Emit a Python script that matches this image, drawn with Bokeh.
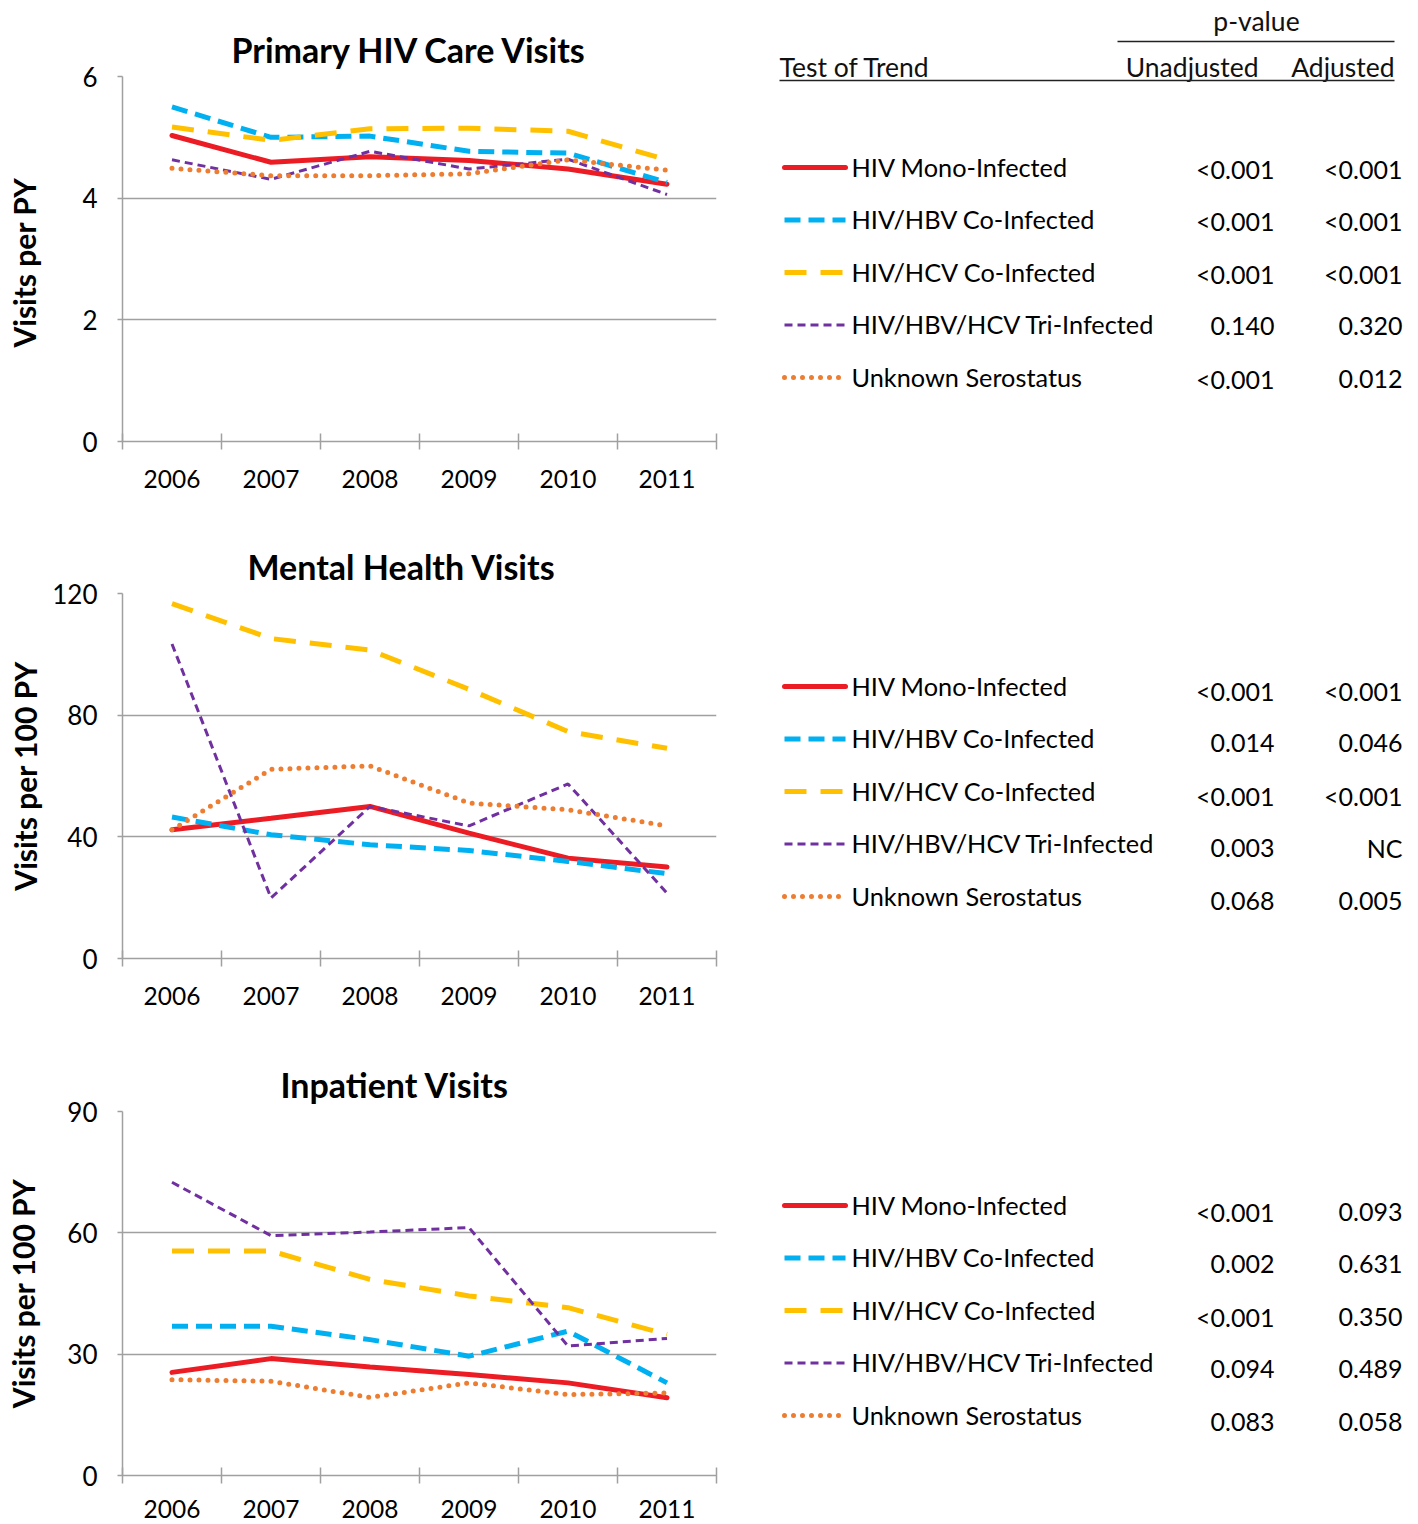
from bokeh.plotting import figure
from bokeh.layouts import row, column
from bokeh.models import Range1d, FixedTicker
from bokeh.core.properties import value
from bokeh.embed import file_html
from bokeh.resources import INLINE

FONT = "Lato"

# ---------------- data ----------------
years = [2006, 2007, 2008, 2009, 2010, 2011]
series_names = ["HIV Mono-Infected", "HIV/HBV Co-Infected", "HIV/HCV Co-Infected",
                "HIV/HBV/HCV Tri-Infected", "Unknown Serostatus"]

primary_mono = [5.03, 4.59, 4.68, 4.62, 4.48, 4.23]
primary_hbv = [5.50, 5.00, 5.02, 4.77, 4.74, 4.26]
primary_hcv = [5.17, 4.95, 5.14, 5.15, 5.10, 4.63]
primary_tri = [4.63, 4.31, 4.77, 4.48, 4.64, 4.06]
primary_unk = [4.49, 4.37, 4.37, 4.40, 4.63, 4.46]

mental_mono = [42.3, 46.1, 50.0, 41.2, 33.0, 30.1]
mental_hbv = [46.5, 40.7, 37.4, 35.5, 31.9, 27.9]
mental_hcv = [116.7, 105.2, 101.4, 88.5, 74.6, 69.1]
mental_tri = [103.4, 19.9, 50.0, 43.6, 57.4, 21.5]
mental_unk = [42.3, 62.2, 63.3, 51.1, 48.9, 43.6]

inpatient_mono = [25.5, 28.9, 26.8, 25.0, 22.9, 19.2]
inpatient_hbv = [36.9, 36.9, 33.6, 29.5, 35.7, 22.9]
inpatient_hcv = [55.5, 55.5, 48.5, 44.4, 41.5, 34.9]
inpatient_tri = [72.5, 59.3, 60.2, 61.3, 32.0, 33.9]
inpatient_unk = [23.7, 23.3, 19.3, 22.9, 20.0, 20.4]

panel_titles = ["Primary HIV Care Visits", "Mental Health  Visits", "Inpatient Visits"]
panel_ylabels = ["Visits per  PY", "Visits per 100 PY", "Visits per 100 PY"]
panel_yticks = [[0, 2, 4, 6], [0, 40, 80, 120], [0, 30, 60, 90]]

t1_unadj = ["<0.001", "<0.001", "<0.001", "0.140", "<0.001"]
t1_adj = ["<0.001", "<0.001", "<0.001", "0.320", "0.012"]
t2_unadj = ["<0.001", "0.014", "<0.001", "0.003", "0.068"]
t2_adj = ["<0.001", "0.046", "<0.001", "NC", "0.005"]
t3_unadj = ["<0.001", "0.002", "<0.001", "0.094", "0.083"]
t3_adj = ["0.093", "0.631", "0.350", "0.489", "0.058"]

# ---------------- styles ----------------
styles = [
    dict(line_color="#ec1c24", line_width=5, line_dash="solid", line_cap="round"),
    dict(line_color="#00b0f0", line_width=5, line_dash="16 8", line_cap="butt"),
    dict(line_color="#ffc000", line_width=5, line_dash="22 14", line_cap="butt"),
    dict(line_color="#7030a0", line_width=3, line_dash="8 5", line_cap="butt"),
    dict(line_color="#ed7d31", line_width=5, line_dash="0 9", line_cap="round"),
]
GRID = "#a0a0a0"


def make_panel(idx, series, height, top, bottom, xstand, ylab_stand, title_off):
    ticks = panel_yticks[idx]
    p = figure(width=738, height=height,
               x_range=Range1d(2005.5, 2011.5), y_range=Range1d(0, ticks[-1]),
               output_backend="svg", toolbar_location=None,
               min_border_left=122, min_border_right=22,
               min_border_top=top, min_border_bottom=bottom,
               title=panel_titles[idx])
    p.outline_line_color = None
    p.background_fill_color = "white"
    p.border_fill_color = "white"
    p.title.align = "left"
    p.title.offset = title_off
    p.title.text_font = FONT
    p.title.text_font_size = "34px"
    p.title.text_font_style = "bold"
    p.title.text_color = "#000000"
    p.title.standoff = 14

    xa = p.xaxis[0]
    xa.ticker = FixedTicker(ticks=years, minor_ticks=[y - 0.5 for y in years] + [years[-1] + 0.5])
    xa.major_tick_line_color = None
    xa.major_tick_in = 0
    xa.major_tick_out = 0
    xa.minor_tick_line_color = GRID
    xa.minor_tick_line_width = 1.5
    xa.minor_tick_in = 8
    xa.minor_tick_out = 8
    xa.axis_line_color = GRID
    xa.axis_line_width = 1.5
    xa.major_label_text_font = FONT
    xa.major_label_text_font_size = "24.5px"
    xa.major_label_text_color = "#000000"
    xa.major_label_standoff = xstand

    ya = p.yaxis[0]
    ya.ticker = FixedTicker(ticks=ticks, minor_ticks=[])
    ya.major_tick_line_color = GRID
    ya.major_tick_in = 0
    ya.major_tick_out = 5
    ya.major_tick_line_width = 1.5
    ya.axis_line_color = GRID
    ya.axis_line_width = 1.5
    ya.major_label_text_font = FONT
    ya.major_label_text_font_size = "26px"
    ya.major_label_text_color = "#000000"
    ya.major_label_standoff = 20
    ya.axis_label = panel_ylabels[idx]
    ya.axis_label_text_font = FONT
    ya.axis_label_text_font_size = "30px"
    ya.axis_label_text_font_style = "bold"
    ya.axis_label_text_color = "#000000"
    ya.axis_label_standoff = ylab_stand

    p.xgrid.visible = False
    p.ygrid.ticker = FixedTicker(ticks=ticks)
    p.ygrid.grid_line_color = GRID
    p.ygrid.grid_line_width = 1.5

    for vals, st in zip(series, styles):
        p.line(years, vals, **st)
    return p


p1 = make_panel(0, [primary_mono, primary_hbv, primary_hcv, primary_tri, primary_unk],
                525, 76, 84, 20, 37, 109)
p2 = make_panel(1, [mental_mono, mental_hbv, mental_hcv, mental_tri, mental_unk],
                517, 68, 84, 20, 6, 125)
p3 = make_panel(2, [inpatient_mono, inpatient_hbv, inpatient_hcv, inpatient_tri, inpatient_unk],
                480, 69, 47, 16, 23, 158)

# ---------------- table / legend panel ----------------
TW, TH = 678, 1522
t = figure(width=TW, height=TH, x_range=Range1d(738, 738 + TW), y_range=Range1d(TH, 0),
           output_backend="svg", toolbar_location=None, min_border=0,
           x_axis_location=None, y_axis_location=None)
t.grid.visible = False
t.outline_line_color = None
t.background_fill_color = "white"
t.border_fill_color = "white"

hdr = dict(text_font=value(FONT), text_font_size="26.5px", text_color="#111111",
           text_baseline="middle")
txt = dict(text_font=value(FONT), text_font_size="25.3px", text_color="#000000",
           text_baseline="middle")
val = dict(text_font=value(FONT), text_font_size="25px", text_color="#000000",
           text_baseline="middle")
t.text(x=[1256], y=[20], text=["p-value"], text_align="center", **hdr)
t.line([1117, 1394], [41, 41], line_color="#222222", line_width=1.5)
t.text(x=[779], y=[66], text=["Test of Trend"], text_align="left", **hdr)
t.text(x=[1258, 1394], y=[66, 66], text=["Unadjusted", "Adjusted"], text_align="right", **hdr)
t.line([779, 1394], [80, 80], line_color="#222222", line_width=1.5)

table_tops = [166, 685, 1204]
value_shift = [2, 5, 7]
row_gap = 52.5
tables = [(t1_unadj, t1_adj), (t2_unadj, t2_adj), (t3_unadj, t3_adj)]
for top, shift, (un, ad) in zip(table_tops, value_shift, tables):
    ys = [top + i * row_gap for i in range(5)]
    for y, st in zip(ys, styles):
        t.line([784, 845], [y + 1, y + 1], **st)
    t.text(x=[851] * 5, y=ys, text=series_names, text_align="left", **txt)
    vy = [y + shift for y in ys]
    t.text(x=[1274] * 5, y=vy, text=un, text_align="right", **val)
    t.text(x=[1402] * 5, y=vy, text=ad, text_align="right", **val)

layout = row(column(p1, p2, p3), t)
open("out.html", "w").write(file_html(layout, INLINE))
